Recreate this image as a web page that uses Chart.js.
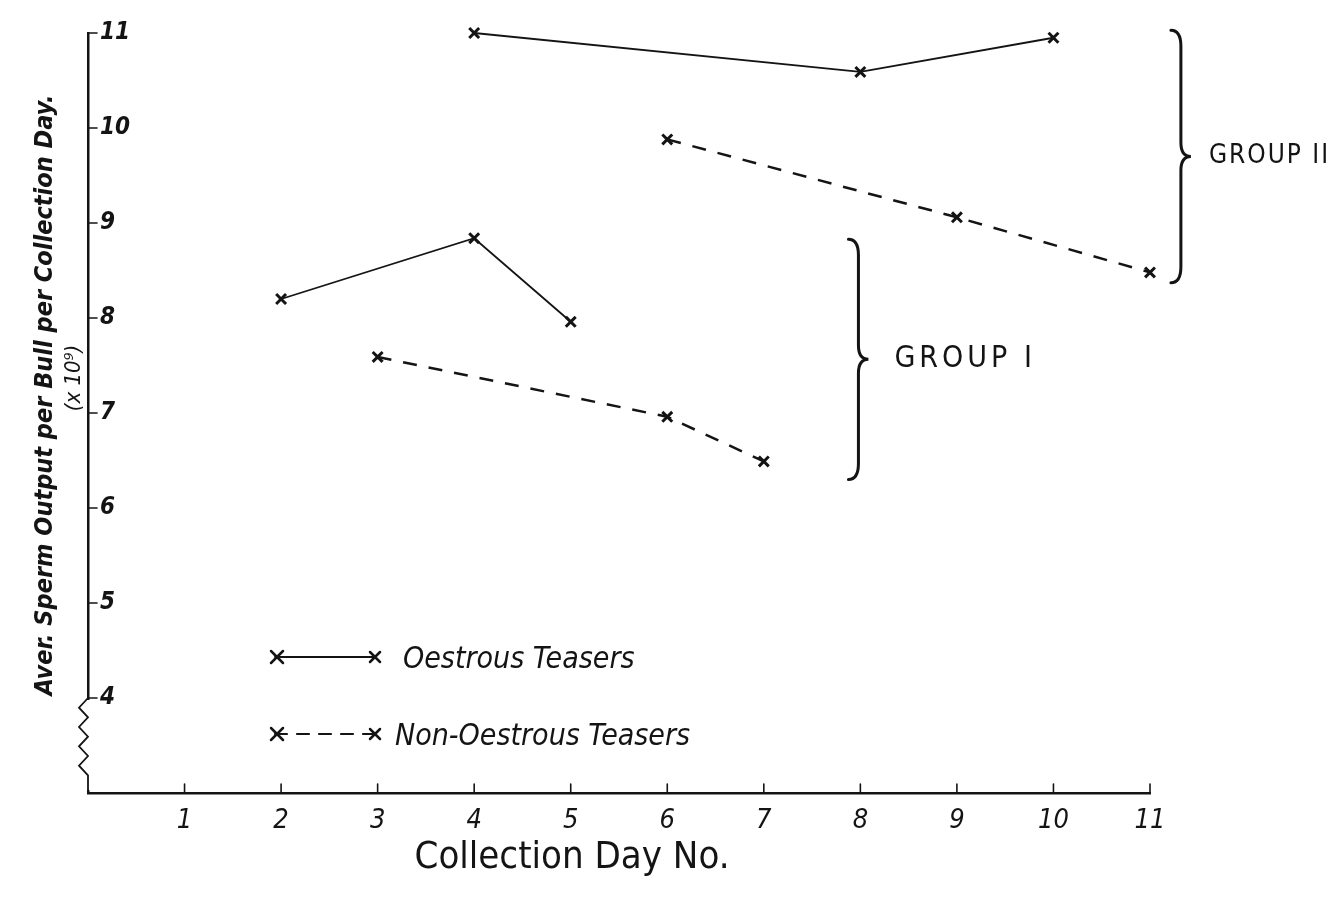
<!DOCTYPE html>
<html>
<head>
<meta charset="utf-8">
<script src="https://cdn.jsdelivr.net/npm/chart.js@4.4.1/dist/chart.umd.min.js"></script>
<style>
html, body { margin: 0; padding: 0; background: #fff; }
#wrap { width: 1342px; height: 900px; position: relative; }
</style>
</head>
<body>
<div id="wrap"><canvas id="spermChart"></canvas></div>
<script>
const dayTicks = [1, 2, 3, 4, 5, 6, 7, 8, 9, 10, 11];
const outputTicks = [4, 5, 6, 7, 8, 9, 10, 11];

// Group I
const g1OestrousDays = [2, 4, 5];
const g1OestrousOutput = [8.2, 8.84, 7.96];
const g1NonOestrousDays = [3, 6, 7];
const g1NonOestrousOutput = [7.59, 6.96, 6.49];
// Group II
const g2OestrousDays = [4, 8, 10];
const g2OestrousOutput = [11.0, 10.59, 10.95];
const g2NonOestrousDays = [6, 9, 11];
const g2NonOestrousOutput = [9.88, 9.06, 8.48];

const legendLabels = ['Oestrous Teasers', 'Non-Oestrous Teasers'];
const groupNames = ['GROUP I', 'GROUP II'];
// brace for each group: [day, low, high]
const groupBraces = [[7.98, 6.3, 8.83], [11.32, 8.37, 11.03]];

const ink = '#141414';
const handFont = "'Liberation Sans Narrow', 'DejaVu Sans Condensed', 'Noto Sans', sans-serif";

function toPoints(xs, ys) {
    return xs.map((d, i) => ({ x: d, y: ys[i] }));
}

function seriesStyle(dashed) {
    return {
        borderColor: ink,
        backgroundColor: ink,
        borderWidth: dashed ? 2.5 : 1.8,
        borderDash: dashed ? [14, 12] : [],
        pointStyle: 'crossRot',
        pointRadius: 7,
        pointBorderWidth: 3,
        pointBorderColor: ink,
        tension: 0,
        fill: false,
        clip: false
    };
}

function drawCross(ctx, x, y, r) {
    ctx.beginPath();
    ctx.moveTo(x - r, y - r); ctx.lineTo(x + r, y + r);
    ctx.moveTo(x + r, y - r); ctx.lineTo(x - r, y + r);
    ctx.stroke();
}

function drawBrace(ctx, x, top, bottom) {
    const mid = (top + bottom) / 2;
    ctx.beginPath();
    ctx.moveTo(x - 10, top);
    ctx.quadraticCurveTo(x, top, x, top + 16);
    ctx.lineTo(x, mid - 14);
    ctx.quadraticCurveTo(x, mid, x + 10, mid);
    ctx.quadraticCurveTo(x, mid, x, mid + 14);
    ctx.lineTo(x, bottom - 16);
    ctx.quadraticCurveTo(x, bottom, x - 10, bottom);
    ctx.stroke();
}

const sketchPlugin = {
    id: 'sketch',
    afterDraw(chart) {
        const { ctx, chartArea, scales } = chart;
        const x = scales.x, y = scales.y;
        ctx.save();
        ctx.strokeStyle = ink;
        ctx.fillStyle = ink;
        ctx.lineCap = 'round';

        // tick marks: x up from the axis, y to the right of it
        ctx.lineWidth = 1.6;
        dayTicks.forEach(d => {
            const px = x.getPixelForValue(d);
            ctx.beginPath();
            ctx.moveTo(px, chartArea.bottom);
            ctx.lineTo(px, chartArea.bottom - 9);
            ctx.stroke();
        });
        outputTicks.forEach(v => {
            const py = y.getPixelForValue(v);
            ctx.beginPath();
            ctx.moveTo(chartArea.left, py);
            ctx.lineTo(chartArea.left + 9, py);
            ctx.stroke();
        });

        // axis break between 3 and 4
        const y4 = y.getPixelForValue(4);
        const yb = chartArea.bottom;
        ctx.fillStyle = '#fff';
        ctx.fillRect(chartArea.left - 3, y4 + 2, 6, yb - y4 - 5);
        ctx.lineWidth = 1.8;
        ctx.beginPath();
        ctx.moveTo(chartArea.left, y4);
        const steps = 9;
        for (let i = 1; i < steps; i++) {
            const zx = chartArea.left + (i % 2 ? -9 : 0);
            ctx.lineTo(zx, y4 + (yb - y4 - 8) * i / steps);
        }
        ctx.lineTo(chartArea.left, yb);
        ctx.stroke();
        ctx.fillStyle = ink;

        // group braces + names
        ctx.lineWidth = 3;
        groupBraces.forEach((b, i) => {
            const bx = x.getPixelForValue(b[0]);
            const top = y.getPixelForValue(b[2]);
            const bottom = y.getPixelForValue(b[1]);
            drawBrace(ctx, bx, top, bottom);
            ctx.font = (i === 0 ? '30px ' : '26px ') + handFont;
            ctx.letterSpacing = i === 0 ? '4px' : '2px';
            ctx.textAlign = 'left';
            ctx.textBaseline = 'middle';
            ctx.fillText(groupNames[i], bx + (i === 0 ? 36 : 28), (top + bottom) / 2);
        });
        ctx.letterSpacing = '0px';

        // legend, lower left
        const lx0 = chartArea.left + 187, lx1 = chartArea.left + 287;
        const rows = [chartArea.top + 624, chartArea.top + 701];
        rows.forEach((ly, i) => {
            ctx.lineWidth = i ? 2.2 : 1.8;
            ctx.setLineDash(i ? [12, 10] : []);
            ctx.beginPath();
            ctx.moveTo(lx0, ly);
            ctx.lineTo(lx1, ly);
            ctx.stroke();
            ctx.setLineDash([]);
            ctx.lineWidth = 2.5;
            drawCross(ctx, lx0 + 2, ly, 6);
            drawCross(ctx, lx1, ly, 5);
            ctx.font = 'italic 30px ' + handFont;
            ctx.textAlign = 'left';
            ctx.textBaseline = 'middle';
            ctx.fillText(legendLabels[i], i ? lx1 + 20 : lx1 + 28, ly + 3);
        });

        // axis titles
        ctx.font = '38px ' + handFont;
        ctx.textAlign = 'center';
        ctx.textBaseline = 'middle';
        ctx.fillText('Collection Day No.', 572, 858);

        ctx.save();
        ctx.translate(45, 395);
        ctx.rotate(-Math.PI / 2);
        ctx.font = 'bold italic 25px ' + handFont;
        ctx.fillText('Aver. Sperm Output per Bull per Collection Day.', 0, 0);
        ctx.restore();
        ctx.save();
        ctx.translate(74, 378);
        ctx.rotate(-Math.PI / 2);
        ctx.font = 'italic 22px ' + handFont;
        ctx.fillText('(x 10\u2079)', 0, 0);
        ctx.restore();

        ctx.restore();
    }
};

const ctx = document.getElementById('spermChart').getContext('2d');

new Chart(ctx, {
    type: 'line',
    data: {
        datasets: [
            Object.assign({ label: 'Group I Oestrous', data: toPoints(g1OestrousDays, g1OestrousOutput) }, seriesStyle(false)),
            Object.assign({ label: 'Group I Non-Oestrous', data: toPoints(g1NonOestrousDays, g1NonOestrousOutput) }, seriesStyle(true)),
            Object.assign({ label: 'Group II Oestrous', data: toPoints(g2OestrousDays, g2OestrousOutput) }, seriesStyle(false)),
            Object.assign({ label: 'Group II Non-Oestrous', data: toPoints(g2NonOestrousDays, g2NonOestrousOutput) }, seriesStyle(true))
        ]
    },
    options: {
        responsive: true,
        maintainAspectRatio: false,
        animation: false,
        layout: { padding: { left: 88, right: 192, top: 33, bottom: 57 } },
        plugins: {
            legend: { display: false },
            tooltip: { enabled: false }
        },
        scales: {
            x: {
                type: 'linear',
                min: 0,
                max: 11,
                grid: { display: false, drawTicks: false },
                border: { display: true, color: ink, width: 2.5 },
                ticks: {
                    stepSize: 1,
                    color: ink,
                    padding: 12,
                    font: { family: handFont, size: 27, style: 'italic' },
                    callback: (v) => (v === 0 ? '' : v)
                },
                afterFit: (scale) => { scale.height = 50; }
            },
            y: {
                min: 3,
                max: 11,
                grid: { display: false, drawTicks: false },
                border: { display: true, color: ink, width: 2.5 },
                ticks: {
                    stepSize: 1,
                    mirror: true,
                    padding: 12,
                    color: ink,
                    font: { family: handFont, size: 24, style: 'italic', weight: 'bold' },
                    callback: (v) => (v === 3 ? '' : v)
                },
                afterFit: (scale) => { scale.width = 0; }
            }
        }
    },
    plugins: [sketchPlugin]
});
</script>
</body>
</html>
